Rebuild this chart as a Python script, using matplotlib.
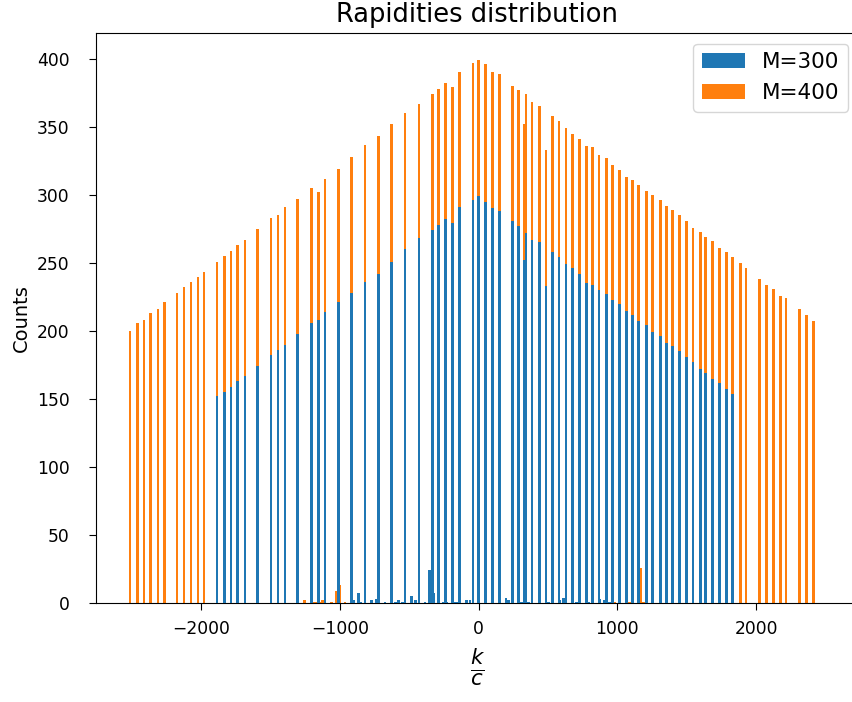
import numpy as np
import matplotlib
matplotlib.use("Agg")
import matplotlib.pyplot as plt

# rapidity bins (k/c) and counts, M=400
k_400 = [-2514, -2461, -2413, -2365, -2312, -2267, -2175, -2125, -2074, -2024,
         -1981, -1887, -1834, -1786, -1738, -1685, -1596, -1497, -1447, -1397,
         -1308, -1207, -1157, -1108, -1012, -918, -820, -721, -630, -531,
         -430, -335, -288, -239, -190, -140, -41, 0, 50, 98,
         149, 245, 288, 330, 340, 384, 437, 485, 531, 579,
         630, 675, 725, 778, 822, 867, 920, 966, 1016, 1064,
         1110, 1154, 1211, 1254, 1309, 1353, 1399, 1447, 1497, 1545,
         1598, 1637, 1687, 1735, 1785, 1831, 1886, 1927, 2023, 2077,
         2124, 2177, 2216, 2314, 2363, 2414]
n_400 = [200, 206, 208, 213, 216, 221, 228, 232, 236, 240,
         243, 251, 255, 259, 263, 267, 275, 283, 285, 291,
         297, 305, 302, 312, 319, 328, 337, 343, 352, 360,
         367, 374, 378, 382, 379, 390, 397, 399, 396, 390,
         389, 380, 377, 352, 374, 368, 365, 333, 358, 354,
         349, 345, 341, 336, 335, 329, 327, 322, 318, 313,
         311, 307, 303, 300, 296, 292, 289, 285, 281, 276,
         273, 269, 266, 261, 258, 254, 250, 246, 238, 234,
         231, 226, 224, 216, 212, 207]

# small stray bins near zero for M=400
k_400_low = [-1257, -1192, -1168, -1144, -1125, -1060, -1024, -1005, -964,
             980, 1088, 1170, 1188]
n_400_low = [2, 1, 1, 1, 2, 1, 9, 13, 1, 1, 1, 26, 1]

# M=300
k_300 = [-1887, -1834, -1786, -1738, -1685, -1596, -1497, -1447, -1397, -1308,
         -1207, -1157, -1108, -1012, -918, -820, -721, -630, -531, -430,
         -335, -288, -239, -190, -140, -41, 0, 50, 98, 149,
         245, 288, 330, 340, 384, 437, 485, 531, 579, 630,
         675, 725, 778, 822, 867, 920, 966, 1016, 1064, 1110,
         1154, 1211, 1254, 1309, 1353, 1399, 1447, 1497, 1545, 1598,
         1637, 1687, 1735, 1785, 1831]
n_300 = [152, 155, 159, 163, 167, 174, 182, 186, 190, 198,
         206, 208, 214, 221, 228, 236, 242, 251, 260, 268,
         274, 278, 282, 279, 291, 296, 299, 295, 290, 288,
         281, 277, 252, 272, 267, 265, 233, 258, 254, 249,
         246, 242, 235, 234, 230, 227, 223, 220, 215, 212,
         207, 204, 199, 196, 191, 189, 185, 181, 177, 172,
         169, 165, 162, 157, 154]

k_300_low = [-904, -868, -850, -771, -737, -675, -600, -580, -550, -483,
             -454, -387, -355, -322, -257, -233, -175, -151, -87, -63,
             198, 215, 307, 359, 505, 584, 610, 705, 791, 872,
             908, 942]
n_300_low = [2, 7, 1, 2, 3, 1, 1, 2, 1, 5,
             2, 1, 24, 7, 1, 1, 1, 1, 2, 2,
             4, 2, 1, 1, 1, 2, 4, 1, 1, 3,
             2, 1]

bin_w = 19

fig = plt.figure(figsize=(8.53, 7.02), dpi=100)
# right spine sits just past the picture edge in the original
ax = fig.add_axes([96/853, 99/702, 763/853, 570/702])

ax.bar(k_400 + k_400_low, n_400 + n_400_low, width=bin_w, color='#ff7f0e',
       linewidth=0, label='M=400', zorder=2)
ax.bar(k_300 + k_300_low, n_300 + n_300_low, width=bin_w, color='#1f77b4',
       linewidth=0, label='M=300', zorder=3)

ax.set_xlim(-2759, 2742)
ax.set_ylim(0, 419)
ax.set_xticks([-2000, -1000, 0, 1000, 2000])
ax.set_yticks(np.arange(0, 401, 50))
ax.tick_params(labelsize=12.3, length=5)
ax.tick_params(axis='x', pad=7)
ax.tick_params(axis='y', pad=14)

ax.set_title('Rapidities distribution', fontsize=18.5, pad=8)
ax.set_xlabel(r'$\frac{k}{c}$', fontsize=22, labelpad=6)
ax.set_ylabel('Counts', fontsize=14)

h, l = ax.get_legend_handles_labels()
ax.legend(h[::-1], l[::-1], loc='upper right', fontsize=15.5)

fig.savefig('out.png', dpi=100)
